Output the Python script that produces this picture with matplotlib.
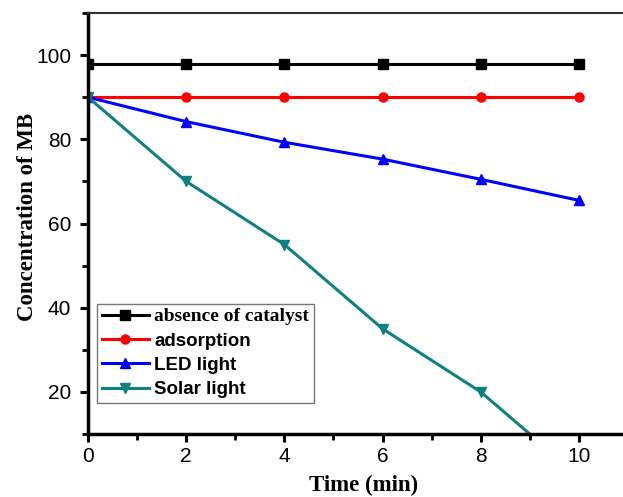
import matplotlib
matplotlib.use("Agg")
import matplotlib.pyplot as plt
from matplotlib.ticker import MultipleLocator

time = [0, 2, 4, 6, 8, 10]
absence = [98, 98, 98, 98, 98, 98]
adsorption = [90, 90, 90, 90, 90, 90]
led = [90, 84.2, 79.3, 75.3, 70.5, 65.5]
solar = [90, 70, 55, 35, 20, 0]
labels = ["absence of catalyst", "adsorption", "LED light", "Solar light"]

fig = plt.figure(figsize=(6.23, 4.97), dpi=100)
ax = fig.add_axes([0.1413, 0.1268, 0.8587, 0.847])

ax.plot(time, absence, color="black", marker="s", markersize=6.5, lw=2.2, label=labels[0])
ax.plot(time, adsorption, color="red", marker="o", markersize=6.5, lw=2.2, label=labels[1])
ax.plot(time, led, color="blue", marker="^", markersize=7.5, lw=2.2, label=labels[2])
ax.plot(time, solar, color="#118080", marker="v", markersize=7.5, lw=2.2, label=labels[3])

ax.set_xlim(0, 10.9)
ax.set_ylim(10, 110)
ax.xaxis.set_major_locator(MultipleLocator(2))
ax.xaxis.set_minor_locator(MultipleLocator(1))
ax.yaxis.set_minor_locator(MultipleLocator(10))
ax.set_yticks([20, 40, 60, 80, 100])

for s in ["left", "bottom"]:
    ax.spines[s].set_linewidth(2.5)
ax.spines["top"].set_linewidth(1.5)
ax.spines["top"].set_color("#333333")
ax.spines["right"].set_visible(False)
ax.tick_params(which="major", direction="out", length=6, width=2.2, labelsize=15)
ax.tick_params(axis="y", which="major", pad=6)
ax.tick_params(which="minor", direction="out", length=4, width=2.0)
for t in ax.get_xticklabels() + ax.get_yticklabels():
    t.set_fontfamily("Liberation Sans")

ax.set_xlabel("Time (min)", fontfamily="Liberation Serif", fontweight="bold", fontsize=16.5, labelpad=6)
ax.set_ylabel("Concentration of MB", fontfamily="Liberation Serif", fontweight="bold", fontsize=16.5, labelpad=-1.5)
ax.xaxis.label.set_x(0.515)
ax.yaxis.label.set_y(0.515)

leg = ax.legend(loc="lower left", bbox_to_anchor=(0.017, 0.074), frameon=True, fancybox=False,
                edgecolor="#555555", handlelength=2.5, handletextpad=0.3, borderpad=0.25,
                labelspacing=0.38, borderaxespad=0, prop={"size": 13.5})
leg.get_frame().set_linewidth(1.0)
for i, t in enumerate(leg.get_texts()):
    if i == 0:
        t.set_fontfamily("Liberation Serif")
        t.set_fontsize(14)
    else:
        t.set_fontfamily("Liberation Sans")
        t.set_fontsize(13.5)
    t.set_fontweight("bold")

fig.savefig("out.png", dpi=100)
